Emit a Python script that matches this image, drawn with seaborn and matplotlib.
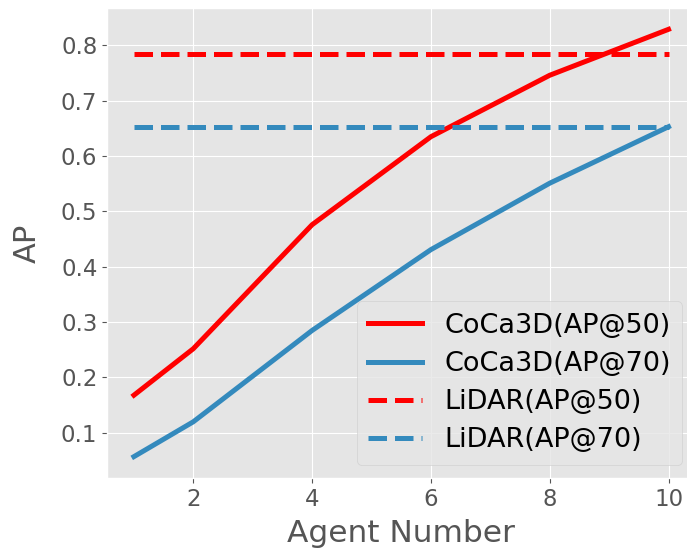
import matplotlib
matplotlib.use("Agg")
import matplotlib.pyplot as plt
import seaborn as sns
import pandas as pd

agents = [1, 2, 4, 6, 8, 10]
coca_ap50 = [0.168, 0.252, 0.476, 0.635, 0.746, 0.829]
coca_ap70 = [0.057, 0.120, 0.285, 0.431, 0.551, 0.653]
lidar_ap50 = 0.784
lidar_ap70 = 0.652
labels = ["CoCa3D(AP@50)", "CoCa3D(AP@70)", "LiDAR(AP@50)", "LiDAR(AP@70)"]

plt.style.use("ggplot")
plt.rcParams["font.family"] = ["DejaVu Sans"]

fig = plt.figure(figsize=(6.87, 5.53), dpi=100)
ax = fig.add_axes([0.156, 0.1356, 0.856, 0.85])

red = "#FF0000"
blue = "#348ABD"
lw = 3.6

df50 = pd.DataFrame({"x": agents, "y": coca_ap50})
df70 = pd.DataFrame({"x": agents, "y": coca_ap70})
dl50 = pd.DataFrame({"x": agents, "y": [lidar_ap50] * len(agents)})
dl70 = pd.DataFrame({"x": agents, "y": [lidar_ap70] * len(agents)})

sns.lineplot(data=df50, x="x", y="y", ax=ax, color=red, lw=lw, label=labels[0])
sns.lineplot(data=df70, x="x", y="y", ax=ax, color=blue, lw=lw, label=labels[1])
sns.lineplot(data=dl50, x="x", y="y", ax=ax, color=red, lw=lw, ls="--", label=labels[2])
sns.lineplot(data=dl70, x="x", y="y", ax=ax, color=blue, lw=lw, ls="--", label=labels[3])

ax.set_xticks([2, 4, 6, 8, 10])
ax.set_yticks([0.1, 0.2, 0.3, 0.4, 0.5, 0.6, 0.7, 0.8])
ax.tick_params(labelsize=16.5, colors="#555555", labelcolor="#555555")
ax.set_xlabel("Agent Number", fontsize=22.5, color="#555555", labelpad=6)
ax.set_ylabel("AP", fontsize=22, color="#555555", labelpad=14)

leg = ax.legend(loc="lower right", fontsize=19.5, handlelength=2.0,
                borderaxespad=0.48, borderpad=0.43, labelspacing=0.45)

fig.savefig("out.png", dpi=100)
